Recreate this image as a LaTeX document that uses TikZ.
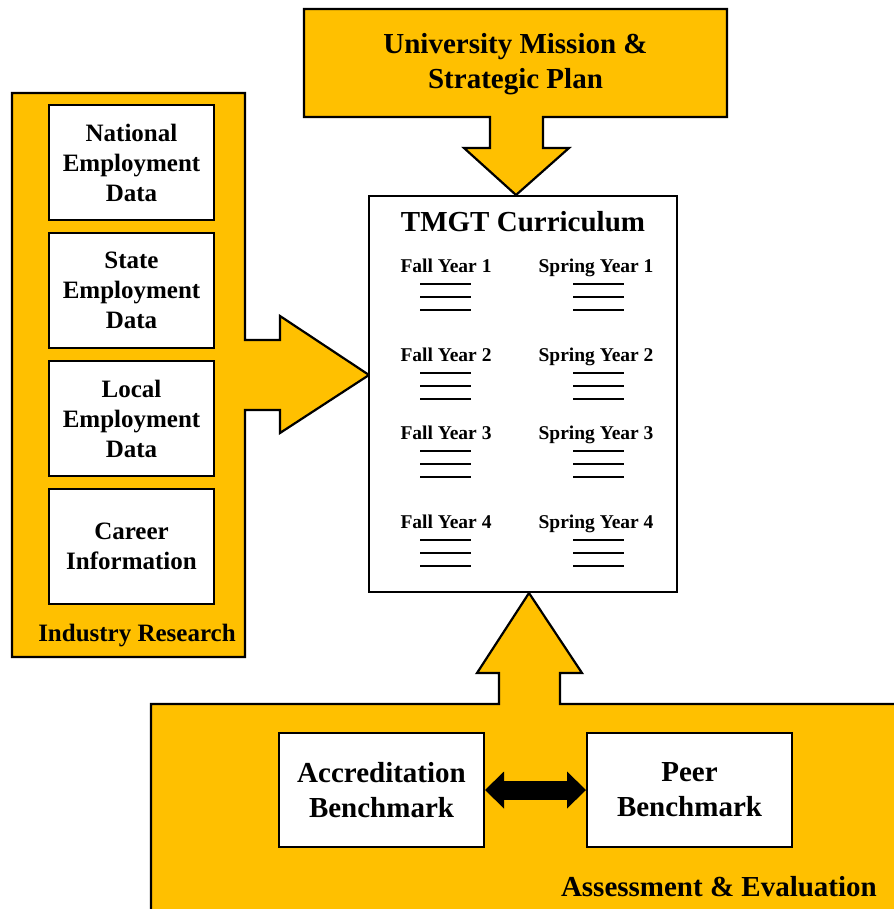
\documentclass[tikz,border=0pt]{standalone}
\usepackage{fontspec}
\setmainfont{Liberation Serif}
\usetikzlibrary{arrows.meta, positioning}
\definecolor{gold}{HTML}{FFC000}

\begin{document}
\begin{tikzpicture}[
  x=1pt, y=-1pt,
  node distance=11pt,
  panel/.style={fill=gold, draw=black, line width=2.2pt, line join=miter},
  databox/.style={rectangle, draw=black, fill=white, line width=2pt, minimum width=165pt,
    minimum height=115pt, inner sep=0pt, align=center, font=\bfseries\fontsize{25}{30}\selectfont},
  benchbox/.style={rectangle, draw=black, fill=white, line width=2pt, minimum width=205pt,
    minimum height=114pt, inner sep=0pt, align=center, font=\bfseries\fontsize{29}{35}\selectfont},
  bigtext/.style={align=center, inner sep=0pt, font=\bfseries\fontsize{29}{35}\selectfont},
  paneltext/.style={inner sep=0pt, anchor=base, font=\bfseries\fontsize{25}{30}\selectfont},
  semlabel/.style={inner sep=0pt, anchor=base, font=\bfseries\fontsize{19.5}{23}\selectfont},
  courseline/.style={line width=1.8pt},
  biarrow/.style={{Triangle[length=19pt,width=37pt,line width=0pt]}-{Triangle[length=19pt,width=37pt,line width=0pt]},
    line width=19pt}
]
\useasboundingbox (0,0) rectangle (893,909);

% gold panels, each with its block arrow pointing at the curriculum
\draw[panel] (304,9) -- (727,9) -- (727,117) -- (543,117) -- (543,148) -- (569,148)
  -- (516,195) -- (464,148) -- (490,148) -- (490,117) -- (304,117) -- cycle;
\draw[panel] (12,93) -- (245,93) -- (245,340) -- (280,340) -- (280,316) -- (369,375)
  -- (280,433) -- (280,410) -- (245,410) -- (245,657) -- (12,657) -- cycle;
\draw[panel] (151,704) -- (499,704) -- (499,673) -- (477,673) -- (529,593) -- (582,673)
  -- (560,673) -- (560,704) -- (905,704) -- (905,920) -- (151,920) -- cycle;

\node[bigtext] (mission) at (515.5,64) {University Mission \&\\Strategic Plan};

% curriculum sheet
\node[draw, line width=2.2pt, fill=white, minimum width=308pt, minimum height=396pt] (curr) at (523,394) {};
\node[bigtext, anchor=base] (currtitle) at (523,232) {TMGT Curriculum};
\foreach \yr/\yb in {1/272,2/361,3/439,4/528} {
  \node[semlabel] (fall\yr) at (446,\yb) {Fall Year \yr};
  \node[semlabel] (spring\yr) at (596,\yb) {Spring Year \yr};
  \foreach \dy in {12,25,38} {
    \draw[courseline] (420,{\yb+\dy}) -- (471,{\yb+\dy});
    \draw[courseline] (573,{\yb+\dy}) -- (624,{\yb+\dy});
  }
}

% industry research sources
\node[databox] (national) at (131.5,162.5) {National\\Employment\\Data};
\node[databox, below=of national] (state) {State\\Employment\\Data};
\node[databox, below=of state] (local) {Local\\Employment\\Data};
\node[databox, below=of local] (career) {Career\\Information};
\node[paneltext] (irlabel) at (137,641) {Industry Research};

% benchmarks
\node[benchbox] (accr) at (381.5,790) {Accreditation\\Benchmark};
\node[benchbox, right=101pt of accr] (peer) {Peer\\Benchmark};
\draw[biarrow] (accr) -- (peer);
\node[bigtext, anchor=base east] (aelabel) at (877,896) {Assessment \& Evaluation};

\end{tikzpicture}
\end{document}
